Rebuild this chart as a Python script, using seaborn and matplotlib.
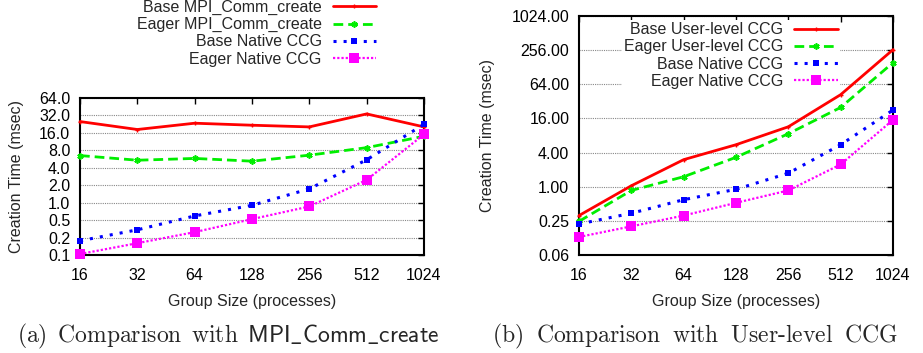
import matplotlib
matplotlib.use("Agg")
import matplotlib.pyplot as plt
import seaborn as sns
import pandas as pd

# ---- data ----
groups = [16, 32, 64, 128, 256, 512, 1024]
x_labels = ["16", "32", "64", "128", "256", "512", "1024"]

base_mpi = [25.1, 18.3, 23.5, 21.7, 20.3, 34.0, 20.3]
eager_mpi = [6.5, 5.4, 5.8, 5.2, 6.6, 8.9, 14.0]
base_native = [0.22, 0.34, 0.59, 0.90, 1.73, 5.5, 22.5]
eager_native = [0.13, 0.20, 0.31, 0.52, 0.86, 2.47, 15.1]
base_user = [0.31, 1.04, 3.0, 5.5, 11.4, 42.0, 261.0]
eager_user = [0.245, 0.86, 1.5, 3.3, 8.6, 25.0, 154.0]

left_yticks = [0.125, 0.25, 0.5, 1, 2, 4, 8, 16, 32, 64]
left_ylabels = ["0.1", "0.2", "0.5", "1.0", "2.0", "4.0", "8.0", "16.0", "32.0", "64.0"]
right_yticks = [0.0625, 0.25, 1, 4, 16, 64, 256, 1024]
right_ylabels = ["0.06", "0.25", "1.00", "4.00", "16.00", "64.00", "256.00", "1024.00"]

left_names = ["Base MPI_Comm_create", "Eager MPI_Comm_create", "Base Native CCG", "Eager Native CCG"]
right_names = ["Base User-level CCG", "Eager User-level CCG", "Base Native CCG", "Eager Native CCG"]

# ---- style ----
sns.set_theme(style="white")
plt.rcParams["font.family"] = ["Liberation Sans", "DejaVu Sans"]
plt.rcParams["mathtext.fontset"] = "cm"

W, H = 923, 353
FS = 11.5
fig = plt.figure(figsize=(W / 100, H / 100), dpi=100)


def px_axes(x0, y0, x1, y1):
    return fig.add_axes([x0 / W, 1 - y1 / H, (x1 - x0) / W, (y1 - y0) / H])


styles = [
    dict(color="#ff0000", lw=2.0, ls="-", marker="+", ms=3.5, mew=1.0),
    dict(color="#00ee00", lw=2.0, ls=(0, (3.5, 1.8)), marker=(6, 2, 0), ms=4.5, mew=1.2),
    dict(color="#0000ff", lw=2.2, ls=(0, (1, 2.3)), marker="s", ms=4, mew=0),
    dict(color="#ff00ff", lw=1.6, ls=(0, (1, 0.9)), marker="s", ms=7, mew=0),
]


def draw(ax, series, names, yticks, ylabels, ylabelpad):
    for vals, name, st in zip(series, names, styles):
        df = pd.DataFrame({"g": groups, "t": vals})
        sns.lineplot(data=df, x="g", y="t", ax=ax, label=name, color=st["color"],
                     linewidth=st["lw"], linestyle=st["ls"], marker=st["marker"],
                     markersize=st["ms"], markeredgewidth=st["mew"],
                     markeredgecolor=st["color"], clip_on=False, zorder=5)
    ax.set_xscale("log", base=2)
    ax.set_yscale("log", base=2)
    ax.set_xlim(groups[0], groups[-1])
    ax.set_ylim(yticks[0], yticks[-1])
    ax.set_xticks(groups)
    ax.set_xticklabels(x_labels)
    ax.set_yticks(yticks)
    ax.set_yticklabels(ylabels)
    ax.minorticks_off()
    ax.yaxis.grid(True, color="#888888", linestyle=(0, (1, 1)), linewidth=0.8)
    ax.xaxis.grid(False)
    for s in ax.spines.values():
        s.set_color("black")
        s.set_linewidth(1.5)
    ax.tick_params(direction="in", length=4, width=1, top=True, right=True,
                   labelsize=FS, colors="black", pad=9)
    ax.tick_params(axis="y", pad=7)
    ax.set_xlabel("Group Size (processes)", fontsize=FS, labelpad=8)
    ax.set_ylabel("Creation Time (msec)", fontsize=FS, labelpad=ylabelpad)
    ax.get_legend().remove()


ax1 = px_axes(80, 98, 424, 255)
draw(ax1, [base_mpi, eager_mpi, base_native, eager_native], left_names,
     left_yticks, left_ylabels, 11)
ax2 = px_axes(579, 16, 893, 255)
draw(ax2, [base_user, eager_user, base_native, eager_native], right_names,
     right_yticks, right_ylabels, 12)

h1, l1 = ax1.get_legend_handles_labels()
fig.legend(h1, l1, loc="upper right", bbox_to_anchor=(376 / W, 1 - 0 / H), frameon=False,
           markerfirst=False, fontsize=FS, handlelength=2.7, handletextpad=0.7,
           labelspacing=0.13, borderpad=0, borderaxespad=0)

h2, l2 = ax2.get_legend_handles_labels()
leg2 = ax2.legend(h2, l2, loc="upper right", bbox_to_anchor=(840 / W, 1 - 20 / H),
                  bbox_transform=fig.transFigure, frameon=True, markerfirst=False,
                  fontsize=FS, handlelength=2.7, handletextpad=0.7, labelspacing=0.13,
                  borderpad=0.15, borderaxespad=0, fancybox=False)
leg2.get_frame().set_facecolor("white")
leg2.get_frame().set_edgecolor("none")
leg2.get_frame().set_alpha(1)
leg2.set_zorder(10)

fig.text(228 / W, 1 - 336 / H,
         r"$\mathrm{(a)\ \,Comparison\ \,with\ \,}\mathsf{MPI\_Comm\_create}$",
         ha="center", va="center", fontsize=17)
fig.text(695 / W, 1 - 336 / H,
         r"$\mathrm{(b)\ \;Comparison\ \;with\ \;User\text{-}level\ \;CCG}$",
         ha="center", va="center", fontsize=17)

fig.savefig("out.png", dpi=100, facecolor="white")
